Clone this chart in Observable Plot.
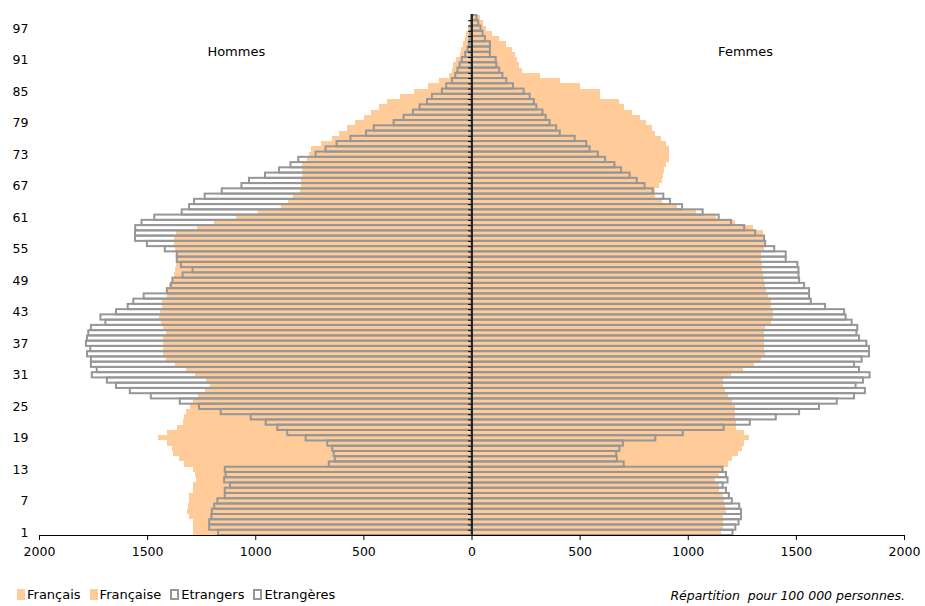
<!DOCTYPE html>
<html>
<head>
<meta charset="utf-8">
<script src="https://cdn.jsdelivr.net/npm/d3@7"></script>
<script src="https://cdn.jsdelivr.net/npm/@observablehq/plot@0.6"></script>
<style>
  html, body { margin: 0; padding: 0; background: #fff; }
  #wrap { position: relative; width: 925px; height: 606px; font-family: "DejaVu Sans", Verdana, sans-serif; }
  #legend { position: absolute; left: 17px; top: 587px; display: flex; align-items: center; font-size: 13px; color: #000; }
  #legend .item { display: flex; align-items: center; margin-right: 9px; }
  #legend .sw { width: 8px; height: 11px; margin-right: 2px; box-sizing: border-box; }
  #caption { position: absolute; right: 20px; top: 588px; font-size: 12.5px; font-style: italic; color: #000; }
</style>
</head>
<body>
<div id="wrap">
  <div id="chart"></div>
  <div id="legend"></div>
  <div id="caption">Répartition&nbsp; pour 100 000 personnes.</div>
</div>
<script>
const ages = [1,2,3,4,5,6,7,8,9,10,11,12,13,14,15,16,17,18,19,20,21,22,23,24,25,26,27,28,29,30,31,32,33,34,35,36,37,38,39,40,41,42,43,44,45,46,47,48,49,50,51,52,53,54,55,56,57,58,59,60,61,62,63,64,65,66,67,68,69,70,71,72,73,74,75,76,77,78,79,80,81,82,83,84,85,86,87,88,89,90,91,92,93,94,95,96,97,98,99];

// Français (hommes), left side
const hommesFrancais = [1287,1287,1290,1306,1317,1310,1306,1306,1290,1286,1275,1280,1287,1330,1353,1381,1386,1406,1449,1410,
  1364,1332,1329,1321,1304,1290,1264,1233,1209,1229,1280,1321,1372,1413,1426,1426,1426,1426,1413,1426,
  1438,1444,1441,1429,1429,1410,1406,1398,1383,1378,1372,1367,1364,1367,1372,1378,1375,1367,1270,1193,
  1090,989,883,849,824,795,790,790,786,786,783,763,752,740,698,647,614,575,541,498,
  464,429,391,329,268,203,148,106,91,86,71,55,48,40,32,25,14,6,2];

// Française (femmes), right side
const femmesFrancaises = [1154,1161,1164,1164,1177,1174,1169,1164,1143,1143,1127,1143,1161,1186,1204,1232,1250,1261,1284,1261,
  1223,1223,1220,1220,1220,1204,1184,1174,1161,1164,1200,1257,1307,1338,1358,1354,1354,1354,1354,1358,
  1384,1392,1392,1384,1384,1369,1361,1358,1354,1346,1343,1343,1338,1338,1354,1354,1358,1349,1300,1220,
  1130,1040,950,880,850,850,865,880,884,892,900,912,915,915,900,877,849,835,807,777,
  743,707,681,595,595,500,408,315,235,220,211,200,185,161,128,97,69,54,38];

// Etrangers (hommes), left side
const hommesEtrangers = [1172,1213,1213,1203,1201,1190,1175,1141,1141,1117,1144,1137,1141,660,632,637,644,667,767,852,
  898,952,1021,1160,1260,1349,1483,1580,1644,1686,1756,1733,1760,1760,1778,1763,1783,1778,1772,1760,
  1693,1716,1644,1590,1564,1516,1409,1390,1383,1336,1290,1344,1363,1363,1418,1501,1556,1556,1555,1526,
  1467,1340,1306,1283,1234,1155,1064,1029,955,890,837,801,721,675,624,560,488,452,360,314,
  271,240,206,183,137,117,91,75,65,55,45,29,18,12,9,6,3,3,2];

// Etrangères (femmes), right side
const femmesEtrangeres = [1207,1220,1235,1246,1246,1238,1204,1190,1177,1161,1184,1177,1161,704,672,669,684,700,850,977,
  1166,1287,1407,1515,1607,1689,1769,1819,1776,1810,1841,1792,1769,1804,1838,1838,1826,1792,1780,1784,
  1758,1730,1723,1635,1569,1561,1561,1538,1515,1512,1512,1507,1453,1453,1400,1358,1353,1312,1261,1200,
  1143,1069,974,918,887,838,800,764,731,692,661,618,584,546,531,477,408,392,361,343,
  328,300,288,269,241,192,161,143,128,115,112,85,85,85,62,51,42,31,23];

const yTickAges = [1,7,13,19,25,31,37,43,49,55,61,67,73,79,85,91,97];
const xTicks = [-2000,-1500,-1000,-500,0,500,1000,1500,2000];
const sideLabels = ["Hommes", "Femmes"];
const legendLabels = ["Français", "Française", "Etrangers", "Etrangères"];

const ORANGE = "#FFCC99";
const GRAY = "#969696";

const rows = ages.map((a, i) => ({
  age: a,
  hf: hommesFrancais[i],
  ff: femmesFrancaises[i],
  he: hommesEtrangers[i],
  fe: femmesEtrangeres[i]
}));

const font = '"DejaVu Sans", Verdana, sans-serif';

const chart = Plot.plot({
  width: 925,
  height: 575,
  marginLeft: 39,
  marginRight: 21,
  marginTop: 15,
  marginBottom: 40,
  style: { fontFamily: font, fontSize: "12px", color: "#000", background: "#fff" },
  x: { domain: [-2000, 2000] },
  y: { domain: [0.5, 99.5] },
  marks: [
    Plot.rect(rows, { x1: d => -d.hf, x2: 0, y1: d => d.age - 0.5, y2: d => d.age + 0.5, fill: ORANGE, shapeRendering: "crispEdges" }),
    Plot.rect(rows, { x1: 0, x2: d => d.ff, y1: d => d.age - 0.5, y2: d => d.age + 0.5, fill: ORANGE, shapeRendering: "crispEdges" }),
    Plot.rect(rows, { x1: d => -d.he, x2: 0, y1: d => d.age - 0.5, y2: d => d.age + 0.5, fill: "none", stroke: GRAY, strokeWidth: 2 }),
    Plot.rect(rows, { x1: 0, x2: d => d.fe, y1: d => d.age - 0.5, y2: d => d.age + 0.5, fill: "none", stroke: GRAY, strokeWidth: 2 }),
    // small ticks on the central axis at each category boundary
    Plot.ruleY(ages, { y: d => d - 0.5, x1: -16, x2: 0, stroke: "#000", strokeWidth: 1 }),
    Plot.ruleX([0], { y1: 0.5, y2: 99.7, stroke: "#000", strokeWidth: 1.5 }),
    Plot.ruleY([0.5], { stroke: "#000", strokeWidth: 1 }),
    Plot.axisX({ ticks: xTicks, tickFormat: d => String(Math.abs(d)), tickSize: 5, tickPadding: 7, label: null, fontSize: 12.5 }),
    Plot.axisY({ ticks: yTickAges, tickSize: 0, tickPadding: 11, label: null, fontSize: 12.5 }),
    Plot.text(sideLabels, { x: (d, i) => i === 0 ? -1090 : 1265, y: 92.6, text: d => d, fontSize: 13, fill: "#000" })
  ]
});
document.getElementById("chart").appendChild(chart);

const legend = document.getElementById("legend");
legendLabels.forEach((lab, i) => {
  const item = document.createElement("div");
  item.className = "item";
  const sw = document.createElement("div");
  sw.className = "sw";
  if (i < 2) { sw.style.background = ORANGE; }
  else { sw.style.border = "2px solid " + GRAY; sw.style.width = "9px"; sw.style.height = "11px"; }
  const t = document.createElement("span");
  t.textContent = lab;
  item.appendChild(sw);
  item.appendChild(t);
  legend.appendChild(item);
});
</script>
</body>
</html>
